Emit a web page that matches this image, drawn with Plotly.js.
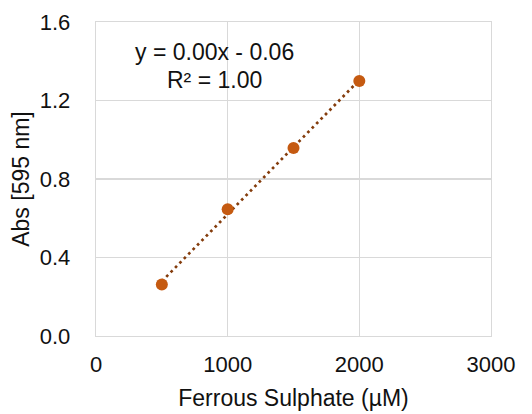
<!DOCTYPE html>
<html>
<head>
<meta charset="utf-8">
<script src="https://cdn.plot.ly/plotly-3.0.1.min.js"></script>
<style>html,body{margin:0;padding:0;background:#fff;}#chart{width:532px;height:414px;}</style>
</head>
<body>
<div id="chart"></div>
<script>
const concentration = [500, 1000, 1500, 2000];
const absorbance = [0.263, 0.646, 0.958, 1.299];
const xTicks = [0, 1000, 2000, 3000];
const yTicks = [0, 0.4, 0.8, 1.2, 1.6];
const xTitle = 'Ferrous Sulphate (µM)';
const yTitle = 'Abs [595 nm]';

// linear least-squares trendline
const n = concentration.length;
const mx = concentration.reduce((a,b)=>a+b,0)/n;
const my = absorbance.reduce((a,b)=>a+b,0)/n;
let sxy=0, sxx=0, syy=0;
for (let i=0;i<n;i++){sxy+=(concentration[i]-mx)*(absorbance[i]-my);sxx+=(concentration[i]-mx)**2;syy+=(absorbance[i]-my)**2;}
const slope = sxy/sxx, intercept = my - slope*mx;
const r2 = (sxy*sxy)/(sxx*syy);
const xMin = Math.min(...concentration), xMax = Math.max(...concentration);
const eqText = 'y = ' + slope.toFixed(2) + 'x ' + (intercept<0?'- ':'+ ') + Math.abs(intercept).toFixed(2);
const r2Text = 'R² = ' + r2.toFixed(2);

const font = {family:'Liberation Sans, Arial, sans-serif', size:22, color:'#111'};
const titleFont = {family:'Liberation Sans, Arial, sans-serif', size:23, color:'#111'};

const traces = [
  {x:[xMin,xMax], y:[intercept+slope*xMin, intercept+slope*xMax], mode:'lines', type:'scatter',
   line:{color:'#843C0C', width:2.7, dash:'2.7px,3.6px'}, hoverinfo:'skip', showlegend:false},
  {x:concentration, y:absorbance, mode:'markers', type:'scatter',
   marker:{color:'#C55A11', size:12}, showlegend:false}
];

const layout = {
  width:532, height:414,
  margin:{l:96, r:41, t:22, b:78},
  paper_bgcolor:'#fff', plot_bgcolor:'#fff',
  font:font,
  showlegend:false,
  xaxis:{range:[0,3000], tickvals:xTicks, ticktext:xTicks.map(String), showgrid:true, gridcolor:'#D9D9D9', gridwidth:1.3,
    zeroline:false, showline:true, mirror:true, linecolor:'#D9D9D9', linewidth:1.3, ticks:'', ticklabelstandoff:8,
    tickfont:font, title:{text:xTitle, font:titleFont, standoff:14}},
  yaxis:{range:[0,1.6], tickvals:yTicks, ticktext:yTicks.map(v=>v.toFixed(1)), showgrid:true, gridcolor:'#D9D9D9', gridwidth:1.3,
    zeroline:false, showline:true, mirror:true, linecolor:'#D9D9D9', linewidth:1.3, ticks:'', ticklabelstandoff:20,
    tickfont:font, title:{text:yTitle, font:titleFont, standoff:3}},
  annotations:[
    {xref:'paper', yref:'paper', x:(214-96)/395, y:(336-52)/314, text:eqText, showarrow:false, font:titleFont, xanchor:'center', yanchor:'middle'},
    {xref:'paper', yref:'paper', x:(214-96)/395, y:(336-80)/314, text:r2Text, showarrow:false, font:titleFont, xanchor:'center', yanchor:'middle'}
  ]
};
Plotly.newPlot('chart', traces, layout, {displayModeBar:false, staticPlot:true});
</script>
</body>
</html>
